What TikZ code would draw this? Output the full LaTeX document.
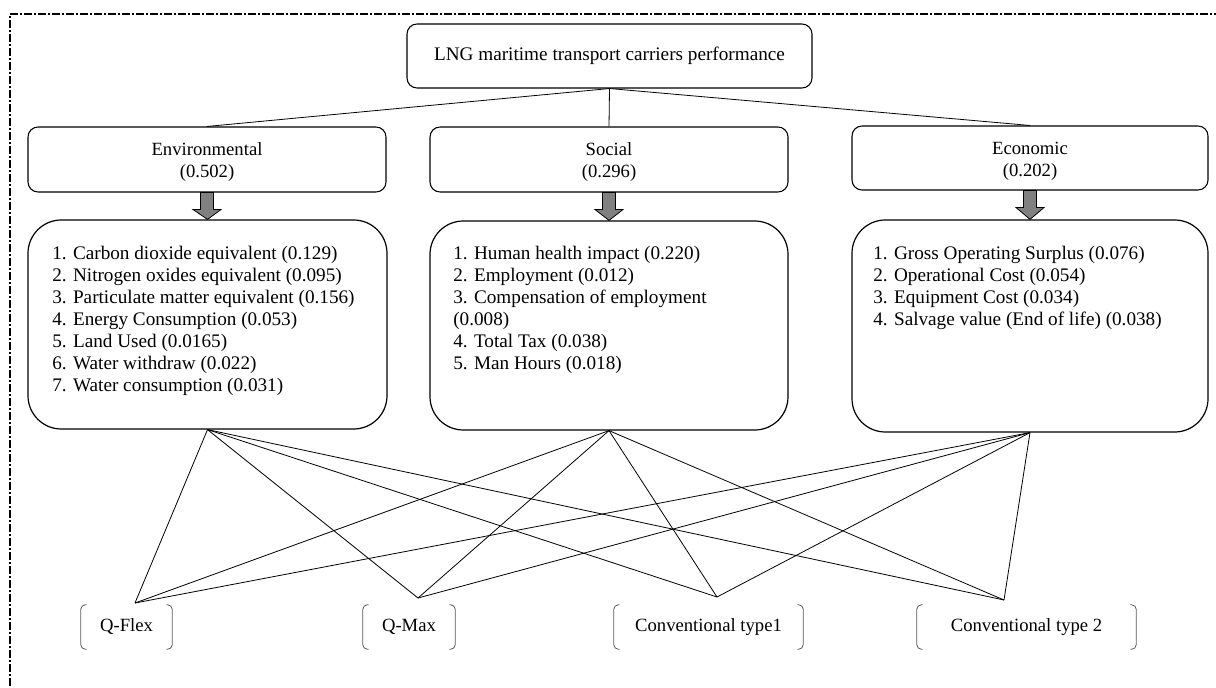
\documentclass[tikz,border=0pt]{standalone}
\usepackage{fontspec}
\setmainfont{Liberation Serif}
\usetikzlibrary{calc}
\definecolor{arrowgray}{RGB}{128,128,128}
\definecolor{brackgray}{RGB}{90,90,90}
\begin{document}
\begin{tikzpicture}[x=0.75pt,y=-0.75pt,
  box/.style={draw, line width=0.8pt, rounded corners=7.5pt, inner sep=0pt, align=center,
    font=\fontsize{14}{16.5}\selectfont},
  headtext/.style={inner sep=0pt, align=center, font=\fontsize{14}{16.5}\selectfont},
  bigbox/.style={draw, line width=0.9pt, rounded corners=25pt, inner sep=0pt},
  listtext/.style={anchor=north west, align=left, inner sep=0pt,
    font=\fontsize{14.4}{16.5}\selectfont},
  alt/.style={inner sep=0pt, font=\fontsize{14}{16.5}\selectfont},
  bracketline/.style={draw=brackgray, line width=0.6pt, rounded corners=3.5pt},
  link/.style={line width=0.6pt},
  fatarrow/.style={draw=black, line width=0.6pt, fill=arrowgray},
  frame/.style={line width=0.9pt, dash pattern=on 6pt off 1.5pt on 1.5pt off 1.5pt}
]
\useasboundingbox (0,0) rectangle (1216,688);
\clip (0,0) rectangle (1216,688);
\fill[white] (0,0) rectangle (1216,688);

% outer dash-dot frame
\draw[frame] (10,700) -- (10,14) -- (1240,14);

% top node
\node[box, minimum width=303.75pt, minimum height=48pt, font=\fontsize{14.4}{16.5}\selectfont]
  (top) at (609.5,56) {LNG maritime transport carriers performance};

% criteria headings
\node[box, minimum width=268.5pt, minimum height=48.75pt] (envH) at (207,159.5) {};
\node[box, minimum width=268.5pt, minimum height=48.75pt] (socH) at (609,159.5) {};
\node[box, minimum width=267pt, minimum height=48pt] (ecoH) at (1030,158) {};
\node[headtext] (envHT) at (207,162) {Environmental\\(0.502)};
\node[headtext] (socHT) at (609,162) {Social\\(0.296)};
\node[headtext] (ecoHT) at (1030,161) {Economic\\(0.202)};

% sub-criteria boxes
\node[bigbox, minimum width=269.25pt, minimum height=156.75pt] (envL) at (207.5,324.5) {};
\node[bigbox, minimum width=268.5pt, minimum height=156.75pt] (socL) at (609,325.5) {};
\node[bigbox, minimum width=267pt, minimum height=159pt] (ecoL) at (1030,326) {};

\node[listtext] (envT) at (52,246) {1. Carbon dioxide equivalent (0.129)\\
2. Nitrogen oxides equivalent (0.095)\\
3. Particulate matter equivalent (0.156)\\
4. Energy Consumption (0.053)\\
5. Land Used (0.0165)\\
6. Water withdraw (0.022)\\
7. Water consumption (0.031)};
\node[listtext] (socT) at (453,246) {1. Human health impact (0.220)\\
2. Employment (0.012)\\
3. Compensation of employment\\
(0.008)\\
4. Total Tax (0.038)\\
5. Man Hours (0.018)};
\node[listtext] (ecoT) at (873,246) {1. Gross Operating Surplus (0.076)\\
2. Operational Cost (0.054)\\
3. Equipment Cost (0.034)\\
4. Salvage value (End of life) (0.038)};

% fat arrows
\foreach \h/\l in {envH/envL, socH/socL, ecoH/ecoL}{
  \draw[fatarrow] ($(\h.south)+(-6.5,0)$) -- ++(0,17) -- ++(-7.5,0) -- (\l.north)
     -- ($(\h.south)+(14,17)$) -- ++(-7.5,0) -- ($(\h.south)+(6.5,0)$) -- cycle;
}

% top links
\draw[link] (top.south) -- (envH.north);
\draw[link] (top.south) -- (socH.north);
\draw[link] (top.south) -- (ecoH.north);

% alternatives
\node[alt, minimum width=68.25pt, minimum height=33pt] (qflex) at (126.5,627) {Q-Flex};
\node[alt, minimum width=69pt, minimum height=33pt] (qmax) at (409,627) {Q-Max};
\node[alt, minimum width=141.75pt, minimum height=33pt] (conv1) at (708.5,627) {Conventional type1};
\node[alt, minimum width=164.25pt, minimum height=33pt] (conv2) at (1026.5,627) {Conventional type 2};

\foreach \n in {qflex,qmax,conv1,conv2}{
  \draw[bracketline] ($(\n.north west)+(6,0)$) -- (\n.north west) -- (\n.south west) -- ($(\n.south west)+(6,0)$);
  \draw[bracketline] ($(\n.north east)+(-6,0)$) -- (\n.north east) -- (\n.south east) -- ($(\n.south east)+(-6,0)$);
}

\coordinate (qflexTop) at (135,603);
\coordinate (qmaxTop) at (418,598);
\coordinate (conv1Top) at (717,597);
\coordinate (conv2Top) at (1004,600);

\foreach \c in {envL,socL,ecoL}{
  \foreach \a in {qflexTop,qmaxTop,conv1Top,conv2Top}{
    \draw[link] (\c.south) -- (\a);
  }
}
\end{tikzpicture}
\end{document}
